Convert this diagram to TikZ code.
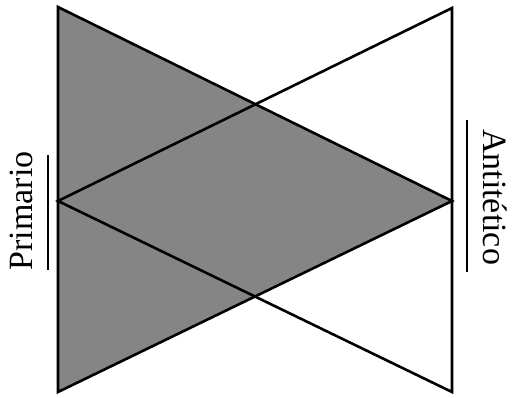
\documentclass[tikz,border=0pt]{standalone}
\usepackage{fontspec}
\setmainfont{Liberation Serif}
\begin{document}
\begin{tikzpicture}[x=1pt,y=-1pt,
  edge/.style={line width=2.6pt,line join=miter,black},
  shade/.style={fill=black!48},
  bar/.style={line width=2.4pt,black},
  lab/.style={font=\fontsize{34}{34}\selectfont,inner sep=0pt}]
\useasboundingbox (0,0) rectangle (512,397);
\coordinate (A) at (58,7);
\coordinate (B) at (58,392);
\coordinate (C) at (452,201);
\coordinate (D) at (452,8);
\coordinate (E) at (452,392);
\coordinate (F) at (58,201);
\fill[shade] (A) -- (B) -- (C) -- cycle;
\draw[edge] (A) -- (B) -- (C) -- cycle;
\draw[edge] (D) -- (E) -- (F) -- cycle;
\node[lab,rotate=90] (prim) at (21,211) {Primario};
\node[lab,rotate=-90] (anti) at (495,197) {Antitético};
\coordinate (p1) at (48,155);
\coordinate (p2) at (48,270);
\coordinate (a1) at (467,120);
\coordinate (a2) at (467,272);
\draw[bar] (p1) -- (p2);
\draw[bar] (a1) -- (a2);
\end{tikzpicture}
\end{document}
